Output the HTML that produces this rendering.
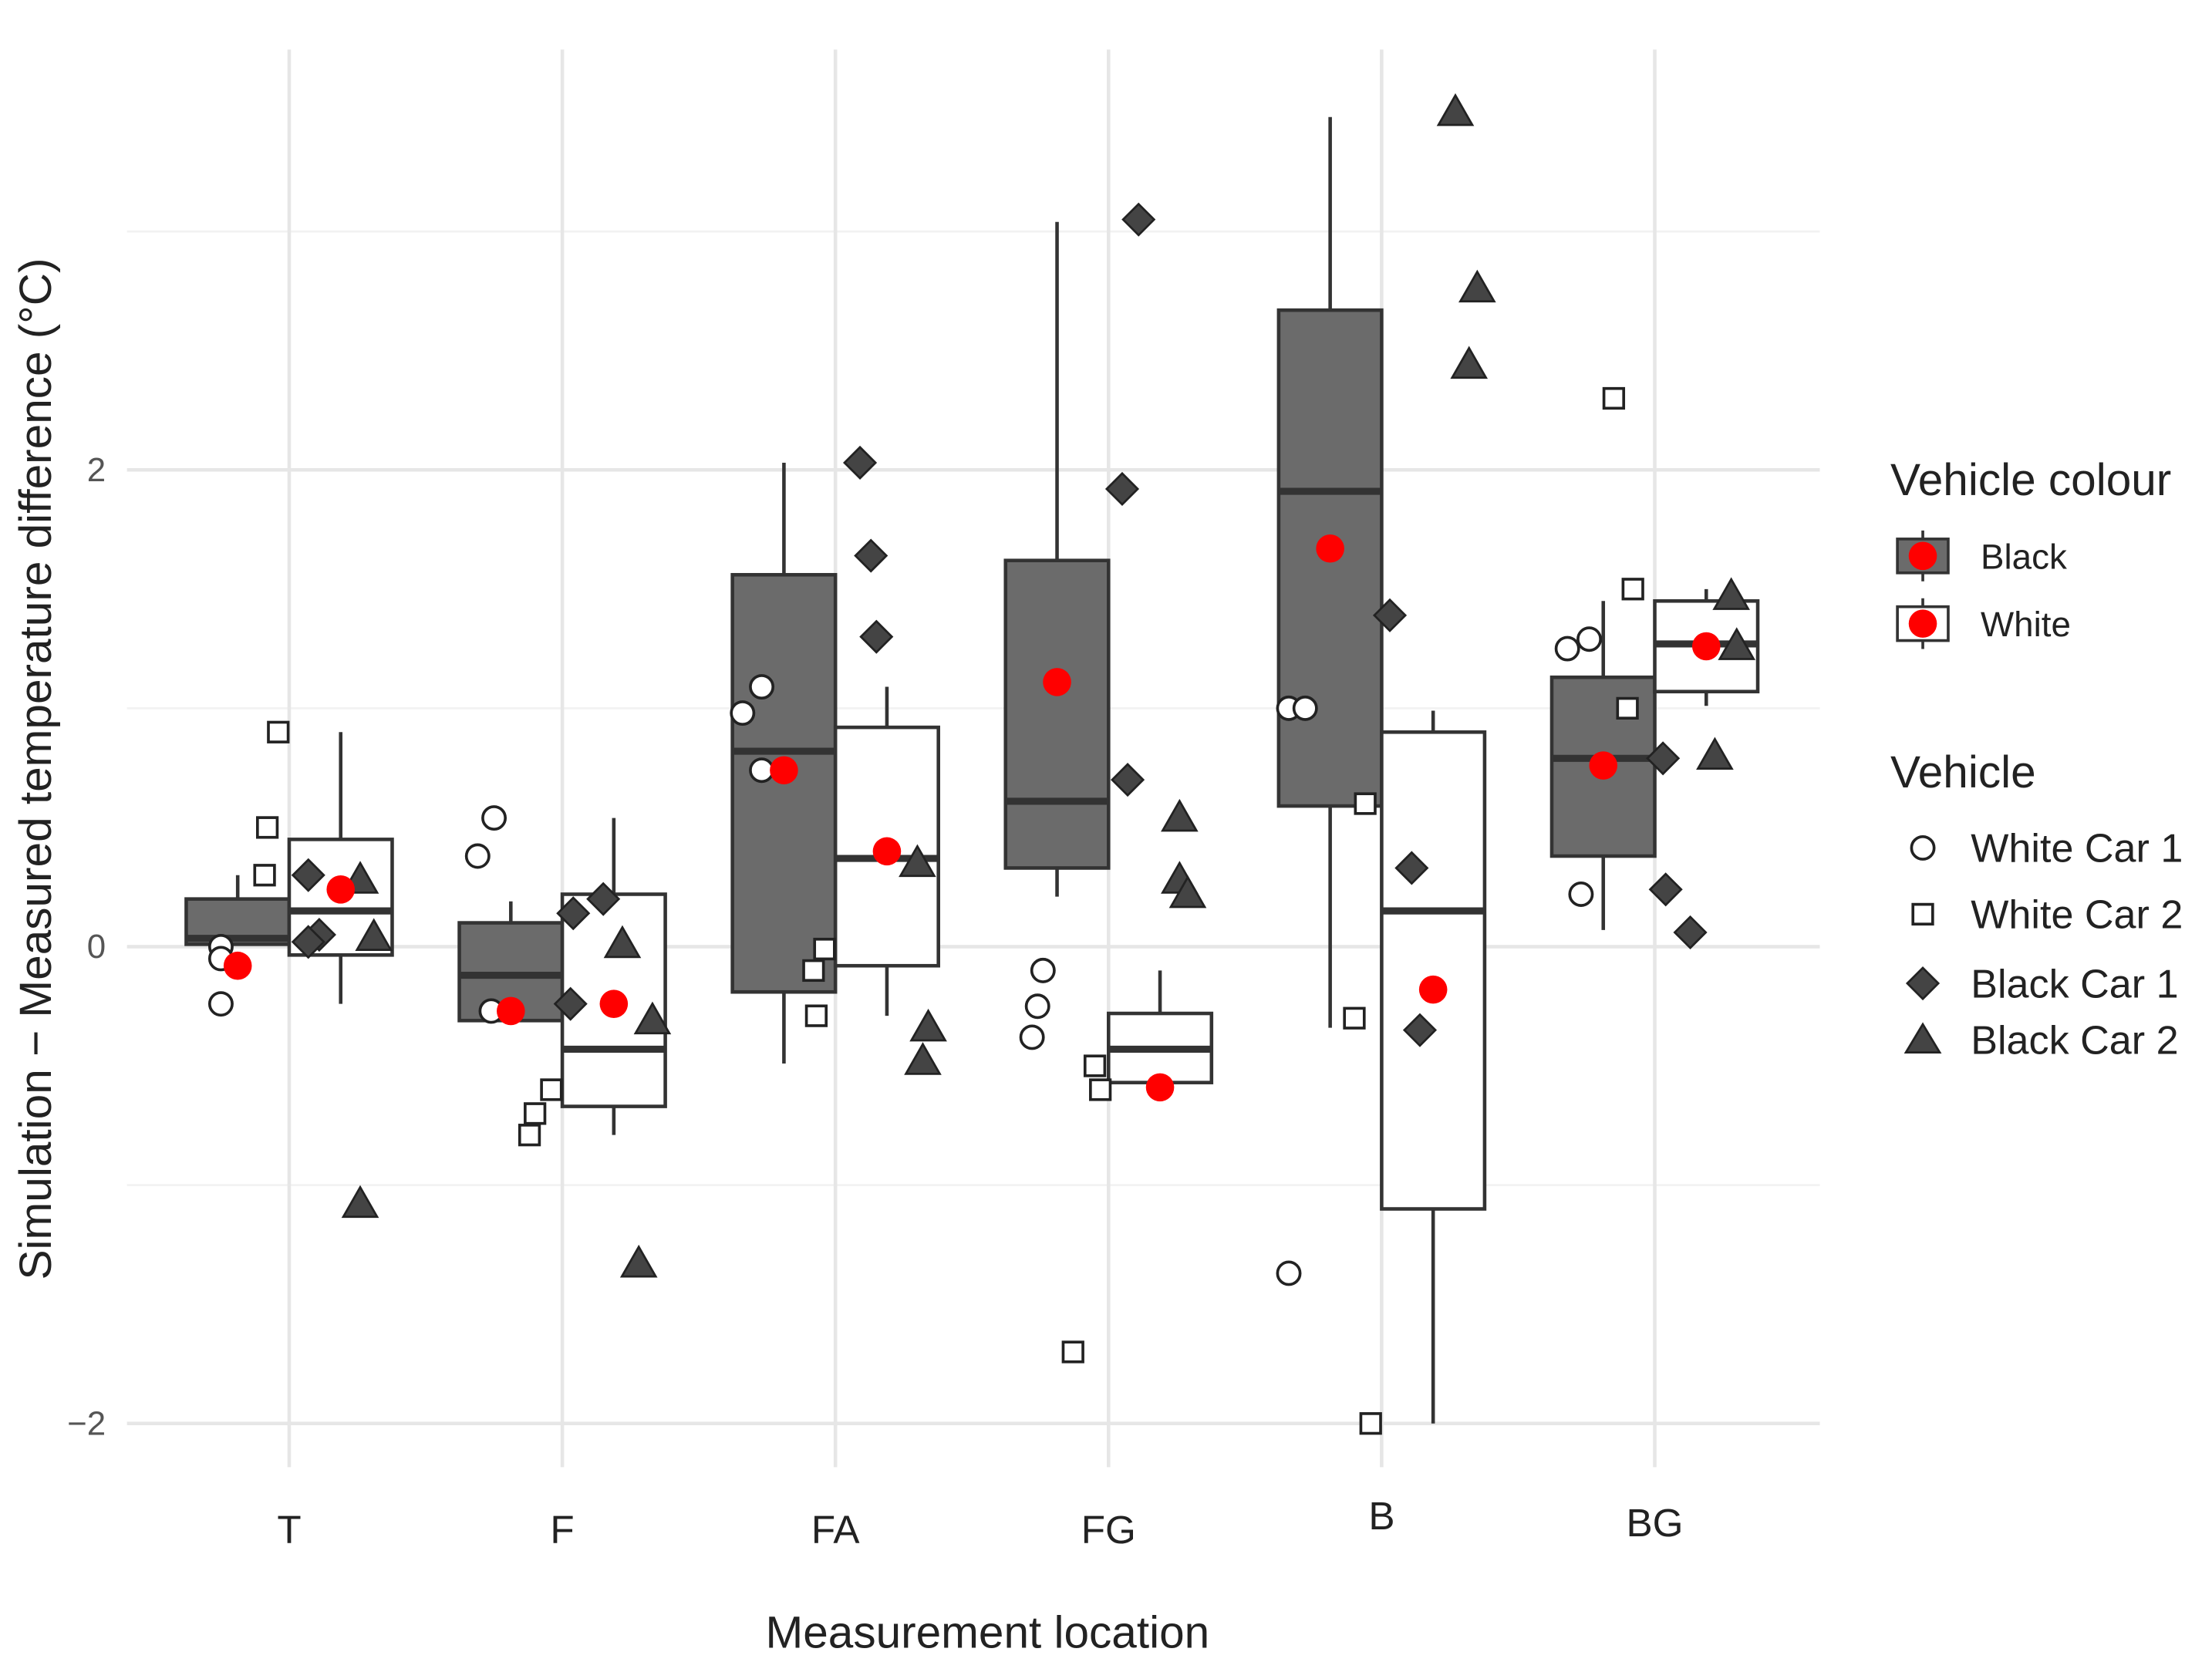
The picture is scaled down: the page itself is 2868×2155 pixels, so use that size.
<!DOCTYPE html>
<html><head><meta charset="utf-8"><style>html,body{margin:0;padding:0;background:#fff}svg{display:block}</style></head>
<body>
<svg width="2868" height="2155" viewBox="0 0 1568 1178" xmlns="http://www.w3.org/2000/svg" font-family="Liberation Sans, sans-serif">
<g id="grid"></g>
<g id="marks"></g>
<g id="axes"></g>
<text x="700" y="1168" font-size="32" text-anchor="middle" fill="#222">Measurement location</text>
<text transform="translate(36,545) rotate(-90)" font-size="32" text-anchor="middle" fill="#222">Simulation − Measured temperature difference (°C)</text>
<g>
<text x="1340" y="351" font-size="32" fill="#222">Vehicle colour</text>
<g>
<line x1="1363" y1="376" x2="1363" y2="412" stroke="#333" stroke-width="2"/>
<rect x="1345" y="382" width="36" height="24" fill="#6b6b6b" stroke="#333" stroke-width="2"/>
<circle cx="1363" cy="394" r="10" fill="#f00"/>
<text x="1404" y="403" font-size="25" fill="#222">Black</text></g>
<g>
<line x1="1363" y1="424" x2="1363" y2="460" stroke="#333" stroke-width="2"/>
<rect x="1345" y="430" width="36" height="24" fill="#fff" stroke="#333" stroke-width="2"/>
<circle cx="1363" cy="442" r="10" fill="#f00"/>
<text x="1404" y="451" font-size="25" fill="#222">White</text></g>
<text x="1340" y="558" font-size="32" fill="#222">Vehicle</text>
<g><circle cx="1363" cy="601" r="8" fill="#fff" stroke="#222" stroke-width="2"/><text x="1397" y="611" font-size="28.5" fill="#222">White Car 1</text></g>
<g><rect x="1356" y="641" width="14" height="14" fill="#fff" stroke="#222" stroke-width="2"/><text x="1397" y="658" font-size="28.5" fill="#222">White Car 2</text></g>
<g><polygon points="1363,686 1374,697 1363,708 1352,697" fill="#444" stroke="#222" stroke-width="1.5"/><text x="1397" y="707" font-size="28.5" fill="#222">Black Car 1</text></g>
<g><polygon points="1363,726 1375,746 1351,746" fill="#444" stroke="#222" stroke-width="1.5"/><text x="1397" y="747" font-size="28.5" fill="#222">Black Car 2</text></g>
</g>
</svg>
<script>
const categories=["T","F","FA","FG","B","BG"];
const yTicks=[-2,0,2];
const yMinor=[-1,1,3];
// box stats: [wlow,q1,median,q3,whigh]
const blackBox=[[0.01,0.01,0.035,0.2,0.3],[-0.31,-0.31,-0.12,0.1,0.19],[-0.49,-0.19,0.82,1.56,2.03],[0.21,0.33,0.61,1.62,3.04],[-0.34,0.59,1.91,2.67,3.48],[0.07,0.38,0.79,1.13,1.45]];
const whiteBox=[[-0.24,-0.035,0.15,0.45,0.9],[-0.79,-0.67,-0.43,0.22,0.54],[-0.29,-0.08,0.37,0.92,1.09],[-0.57,-0.57,-0.43,-0.28,-0.1],[-2,-1.1,0.15,0.9,0.99],[1.01,1.07,1.27,1.45,1.5]];
const blackMean=[-0.08,-0.27,0.74,1.11,1.67,0.76];
const whiteMean=[0.24,-0.24,0.4,-0.59,-0.18,1.26];
const whiteCar1=[[0,-0.05,-0.24],[0.54,0.38,-0.27],[0.98,1.09,0.74],[-0.1,-0.25,-0.38],[1.0,1.0,-1.37],[1.25,1.29,0.22]];
const whiteCar2=[[0.9,0.5,0.3],[-0.6,-0.7,-0.79],[-0.01,-0.1,-0.29],[-0.5,-0.6,-1.7],[0.6,-0.3,-2],[2.3,1.5,1.0]];
const blackCar1=[[0.3,0.05,0.02],[0.14,0.2,-0.24],[2.03,1.64,1.3],[3.05,1.92,0.7],[1.39,0.33,-0.35],[0.79,0.24,0.06]];
const blackCar2=[[0.28,0.04,-1.08],[0.01,-0.31,-1.33],[0.35,-0.34,-0.48],[0.54,0.28,0.22],[3.5,2.76,2.44],[1.47,1.26,0.8]];
// jitter in category units
const jitW1=[[-0.25,-0.25,-0.25],[-0.25,-0.31,-0.26],[-0.34,-0.27,-0.27],[-0.24,-0.26,-0.28],[-0.34,-0.28,-0.34],[-0.32,-0.24,-0.27]];
const jitW2=[[-0.04,-0.08,-0.09],[-0.04,-0.1,-0.12],[-0.04,-0.08,-0.07],[-0.05,-0.03,-0.13],[-0.06,-0.1,-0.04],[-0.15,-0.08,-0.1]];
const jitB1=[[0.07,0.11,0.07],[0.04,0.15,0.03],[0.09,0.13,0.15],[0.11,0.05,0.07],[0.03,0.11,0.14],[0.03,0.04,0.13]];
const jitB2=[[0.26,0.31,0.26],[0.22,0.33,0.28],[0.3,0.34,0.32],[0.26,0.26,0.29],[0.27,0.35,0.32],[0.28,0.3,0.22]];

const NS="http://www.w3.org/2000/svg";
const X0=205,STEP=193.6,BW=73;
const xs=i=>X0+i*STEP;
const ys=v=>671-v*169;
const xj=(i,j)=>xs(i)+j*STEP;
function mk(tag,attrs,parent){const e=document.createElementNS(NS,tag);for(const k in attrs)e.setAttribute(k,attrs[k]);parent.appendChild(e);return e;}
const grid=document.getElementById('grid'),marks=document.getElementById('marks'),axes=document.getElementById('axes');
const L=90,R=1290,T=35,B=1040;
yMinor.forEach(v=>{const l=mk('line',{x1:L,x2:R,y1:ys(v),y2:ys(v),stroke:'#f2f2f2','stroke-width':1.5},grid);

});
yTicks.forEach(v=>{const l=mk('line',{x1:L,x2:R,y1:ys(v),y2:ys(v),stroke:'#e6e6e6','stroke-width':2.5},grid);


const t=mk('text',{x:75,y:ys(v)+8,'font-size':24,'text-anchor':'end',fill:'#555'},axes);t.textContent=v<0?'−'+(-v):String(v);

});
categories.forEach((c,i)=>{const l=mk('line',{x1:xs(i),x2:xs(i),y1:T,y2:B,stroke:'#e6e6e6','stroke-width':2.5},grid);


const t=mk('text',{x:xs(i),y:(c==='B'?1084:c==='BG'?1089:1094),'font-size':28,'text-anchor':'middle',fill:'#222'},axes);t.textContent=c;

});
function box(i,s,left,fill,name){const g=mk('g',{},marks);


const x1=left?xs(i)-BW:xs(i),cx=x1+BW/2;
mk('line',{x1:cx,x2:cx,y1:ys(s[4]),y2:ys(s[0]),stroke:'#333','stroke-width':2.5},g);
mk('rect',{x:x1,y:ys(s[3]),width:BW,height:ys(s[1])-ys(s[3]),fill:fill,stroke:'#333','stroke-width':2.5},g);
mk('line',{x1:x1,x2:x1+BW,y1:ys(s[2]),y2:ys(s[2]),stroke:'#333','stroke-width':5},g);}
categories.forEach((c,i)=>{box(i,blackBox[i],true,'#6b6b6b','box-black-'+c);box(i,whiteBox[i],false,'#fff','box-white-'+c);});
function pts(data,jit,shape,fill,name){data.forEach((arr,i)=>arr.forEach((v,k)=>{const x=xj(i,jit[i][k]),y=ys(v);let e;
if(shape==='c')e=mk('circle',{cx:x,cy:y,r:8,fill:fill,stroke:'#222','stroke-width':2},marks);
else if(shape==='s')e=mk('rect',{x:x-7,y:y-7,width:14,height:14,fill:fill,stroke:'#222','stroke-width':2},marks);
else if(shape==='d')e=mk('polygon',{points:`${x},${y-11} ${x+11},${y} ${x},${y+11} ${x-11},${y}`,fill:fill,stroke:'#222','stroke-width':1.5},marks);
else e=mk('polygon',{points:`${x},${y-12} ${x+12},${y+9} ${x-12},${y+9}`,fill:fill,stroke:'#222','stroke-width':1.5},marks);

}));}
pts(whiteCar1,jitW1,'c','#fff','point-white-car-1');
pts(whiteCar2,jitW2,'s','#fff','point-white-car-2');
pts(blackCar1,jitB1,'d','#444','point-black-car-1');
pts(blackCar2,jitB2,'t','#444','point-black-car-2');
categories.forEach((c,i)=>{let e=mk('circle',{cx:xs(i)-BW/2,cy:ys(blackMean[i]),r:10,fill:'#f00'},marks);


e=mk('circle',{cx:xs(i)+BW/2,cy:ys(whiteMean[i]),r:10,fill:'#f00'},marks);

});
</script>
</body></html>
